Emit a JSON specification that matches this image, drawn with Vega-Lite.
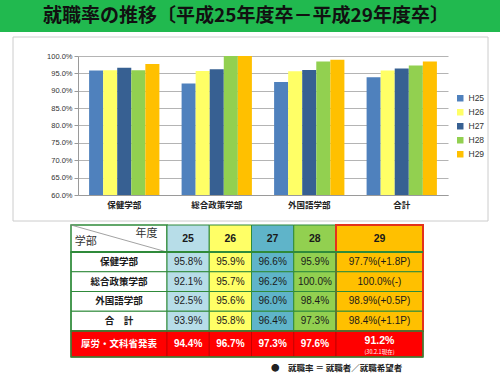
{
  "$schema": "https://vega.github.io/schema/vega-lite/v6.json",
  "padding": 0,
  "background": "white",
  "spacing": 0,
  "bounds": "flush",
  "config": {"view": {"stroke": null}, "font": "Liberation Sans, Noto Sans CJK JP"},
  "resolve": {"scale": {"color": "independent"}, "legend": {"color": "independent"}},
  "datasets": {
    "rates": [
      {"dept": "保健学部", "year": "H25", "rate": 0.958},
      {"dept": "保健学部", "year": "H26", "rate": 0.959},
      {"dept": "保健学部", "year": "H27", "rate": 0.966},
      {"dept": "保健学部", "year": "H28", "rate": 0.959},
      {"dept": "保健学部", "year": "H29", "rate": 0.977},
      {"dept": "総合政策学部", "year": "H25", "rate": 0.921},
      {"dept": "総合政策学部", "year": "H26", "rate": 0.957},
      {"dept": "総合政策学部", "year": "H27", "rate": 0.962},
      {"dept": "総合政策学部", "year": "H28", "rate": 1.0},
      {"dept": "総合政策学部", "year": "H29", "rate": 1.0},
      {"dept": "外国語学部", "year": "H25", "rate": 0.925},
      {"dept": "外国語学部", "year": "H26", "rate": 0.956},
      {"dept": "外国語学部", "year": "H27", "rate": 0.960},
      {"dept": "外国語学部", "year": "H28", "rate": 0.984},
      {"dept": "外国語学部", "year": "H29", "rate": 0.989},
      {"dept": "合計", "year": "H25", "rate": 0.939},
      {"dept": "合計", "year": "H26", "rate": 0.958},
      {"dept": "合計", "year": "H27", "rate": 0.964},
      {"dept": "合計", "year": "H28", "rate": 0.973},
      {"dept": "合計", "year": "H29", "rate": 0.984}
    ],
    "col29": [
      {"dept": "保健学部", "v": "97.7%(+1.8P)"},
      {"dept": "総合政策学部", "v": "100.0%(-)"},
      {"dept": "外国語学部", "v": "98.9%(+0.5P)"},
      {"dept": "合計", "v": "98.4%(+1.1P)"}
    ],
    "depts": [
      {"dept": "保健学部", "label": "保健学部"},
      {"dept": "総合政策学部", "label": "総合政策学部"},
      {"dept": "外国語学部", "label": "外国語学部"},
      {"dept": "合計", "label": "合　計"}
    ],
    "mhlw": [
      {"year": "H25", "v": 0.944},
      {"year": "H26", "v": 0.967},
      {"year": "H27", "v": 0.973},
      {"year": "H28", "v": 0.976}
    ],
    "years": [
      {"year": "H25", "label": "25"},
      {"year": "H26", "label": "26"},
      {"year": "H27", "label": "27"},
      {"year": "H28", "label": "28"}
    ]
  },
  "vconcat": [
    {
      "width": 500, "height": 32,
      "view": {"fill": "#21b94f", "stroke": null},
      "data": {"values": [{"t": "就職率の推移〔平成25年度卒－平成29年度卒〕"}]},
      "mark": {"type": "text", "font": "Noto Sans CJK JP", "fontSize": 19, "fontWeight": "bold", "color": "#111111", "baseline": "middle", "dx": -4},
      "encoding": {"text": {"field": "t"}}
    },
    {
      "width": 500, "height": 193,
      "resolve": {"scale": {"x": "independent", "y": "independent"}},
      "layer": [
        {
          "data": {"name": "rates"},
          "mark": {"type": "bar"},
          "encoding": {
            "x": {"field": "dept", "type": "nominal", "sort": ["保健学部", "総合政策学部", "外国語学部", "合計"],
                  "scale": {"range": [78, 448], "paddingInner": 0.24, "paddingOuter": 0.12},
                  "axis": {"title": null, "orient": "bottom", "labelAngle": 0, "offset": -30, "ticks": false, "domainColor": "#9a9a9a", "labelFont": "Noto Sans CJK JP", "labelFontWeight": "bold", "labelFontSize": 8.5, "labelColor": "#222", "labelPadding": 5}},
            "xOffset": {"field": "year", "type": "nominal", "scale": {"paddingInner": 0, "paddingOuter": 0}},
            "y": {"field": "rate", "type": "quantitative",
                  "scale": {"domain": [0.6, 1], "range": [163, 24], "zero": false, "nice": false},
                  "axis": {"title": null, "orient": "left", "format": ".1%", "values": [0.6, 0.65, 0.7, 0.75, 0.8, 0.85, 0.9, 0.95, 1.0], "offset": -78, "gridColor": "#b4b4b4", "domainColor": "#9a9a9a", "tickColor": "#9a9a9a", "tickSize": 4, "labelFontSize": 7.5, "labelColor": "#333", "labelPadding": 2}},
            "y2": {"datum": 0.6},
            "color": {"field": "year", "type": "nominal",
                      "scale": {"domain": ["H25", "H26", "H27", "H28", "H29"], "range": ["#4f81bd", "#ffff66", "#376092", "#92d050", "#ffc000"]},
                      "legend": {"title": null, "orient": "none", "legendX": 456, "legendY": 62, "direction": "vertical", "symbolType": "square", "symbolSize": 42, "symbolStrokeWidth": 0, "labelFontSize": 8.5, "labelColor": "#333", "rowPadding": 5, "labelOffset": 4}}
          }
        },
        {
          "data": {"values": [{}]},
          "mark": {"type": "rect", "fill": "transparent", "stroke": "#cccccc", "strokeWidth": 1},
          "encoding": {
            "x": {"datum": 0, "type": "quantitative", "scale": {"domain": [0, 1], "range": [13, 488]}, "axis": null}, "x2": {"datum": 1},
            "y": {"datum": 0, "type": "quantitative", "scale": {"domain": [0, 1], "range": [189, 5]}, "axis": null}, "y2": {"datum": 1}
          }
        }
      ]
    },
    {
      "width": 500, "height": 27,
      "resolve": {"scale": {"x": "independent", "y": "independent"}},
      "layer": [
        {
          "data": {"values": [{"a": "学部", "b": "年度"}]},
          "layer": [
            {"mark": {"type": "rect", "fill": "white", "stroke": "#2f8a3a", "strokeWidth": 1.5},
             "encoding": {"x": {"datum": 0, "type": "quantitative", "scale": {"domain": [0, 1], "range": [71, 167]}, "axis": null}, "x2": {"datum": 1},
                          "y": {"datum": 0, "type": "quantitative", "scale": {"domain": [0, 1]}, "axis": null}, "y2": {"datum": 1}}},
            {"mark": {"type": "rule", "color": "#8a8a8a", "strokeWidth": 0.8},
             "encoding": {"x": {"datum": 0, "type": "quantitative", "scale": {"domain": [0, 1], "range": [71, 167]}, "axis": null}, "x2": {"datum": 1},
                          "y": {"datum": 1, "type": "quantitative", "scale": {"domain": [0, 1]}, "axis": null}, "y2": {"datum": 0}}},
            {"mark": {"type": "text", "align": "left", "fontSize": 11, "color": "#333", "font": "Noto Sans CJK JP"},
             "encoding": {"x": {"datum": 0.04, "type": "quantitative", "scale": {"domain": [0, 1], "range": [71, 167]}, "axis": null},
                          "y": {"datum": 0.38, "type": "quantitative", "scale": {"domain": [0, 1]}, "axis": null}, "text": {"field": "a"}}},
            {"mark": {"type": "text", "align": "right", "fontSize": 11, "color": "#333", "font": "Noto Sans CJK JP"},
             "encoding": {"x": {"datum": 0.9, "type": "quantitative", "scale": {"domain": [0, 1], "range": [71, 167]}, "axis": null},
                          "y": {"datum": 0.68, "type": "quantitative", "scale": {"domain": [0, 1]}, "axis": null}, "text": {"field": "b"}}}
          ]
        },
        {
          "data": {"name": "years"},
          "encoding": {"x": {"field": "year", "type": "nominal", "scale": {"domain": ["H25", "H26", "H27", "H28"], "range": [167, 336], "paddingInner": 0, "paddingOuter": 0}, "axis": null}},
          "layer": [
            {"mark": {"type": "rect", "stroke": "#2f8a3a", "strokeWidth": 1},
             "encoding": {"y": {"datum": 0, "type": "quantitative", "scale": {"domain": [0, 1]}, "axis": null}, "y2": {"datum": 1},
                          "fill": {"field": "year", "type": "nominal", "scale": {"domain": ["H25", "H26", "H27", "H28"], "range": ["#b7dde8", "#ffff66", "#5fb4c9", "#92d050"]}, "legend": null}}},
            {"mark": {"type": "text", "fontSize": 10.5, "fontWeight": "bold", "color": "#1a1a1a"},
             "encoding": {"text": {"field": "label"}}}
          ]
        },
        {
          "data": {"values": [{"label": "29"}]},
          "encoding": {"x": {"datum": 0, "type": "quantitative", "scale": {"domain": [0, 1], "range": [336, 423]}, "axis": null}},
          "layer": [
            {"mark": {"type": "rect", "fill": "#ffc000", "stroke": "#e4321b", "strokeWidth": 2},
             "encoding": {"x2": {"datum": 1}, "y": {"datum": 0, "type": "quantitative", "scale": {"domain": [0, 1]}, "axis": null}, "y2": {"datum": 1}}},
            {"mark": {"type": "text", "fontSize": 10.5, "fontWeight": "bold", "color": "#1a1a1a"},
             "encoding": {"x": {"datum": 0.5, "type": "quantitative", "scale": {"domain": [0, 1], "range": [336, 423]}, "axis": null}, "text": {"field": "label"}}}
          ]
        }
      ]
    },
    {
      "width": 500, "height": 79,
      "resolve": {"scale": {"x": "independent", "y": "independent"}},
      "layer": [
        {
          "data": {"name": "depts"},
          "encoding": {"y": {"field": "dept", "type": "nominal", "scale": {"domain": ["保健学部", "総合政策学部", "外国語学部", "合計"], "paddingInner": 0, "paddingOuter": 0}, "axis": null}},
          "layer": [
            {"mark": {"type": "rect", "fill": "white", "stroke": "#2f8a3a", "strokeWidth": 1},
             "encoding": {"x": {"datum": 0, "type": "quantitative", "scale": {"domain": [0, 1], "range": [71, 167]}, "axis": null}, "x2": {"datum": 1}}},
            {"mark": {"type": "text", "fontSize": 9.5, "fontWeight": "bold", "color": "#1a1a1a", "font": "Noto Sans CJK JP"},
             "encoding": {"x": {"datum": 0.5, "type": "quantitative", "scale": {"domain": [0, 1], "range": [71, 167]}, "axis": null}, "text": {"field": "label"}}}
          ]
        },
        {
          "data": {"name": "rates"},
          "transform": [{"filter": {"field": "year", "oneOf": ["H25", "H26", "H27", "H28"]}}],
          "encoding": {
            "x": {"field": "year", "type": "nominal", "scale": {"domain": ["H25", "H26", "H27", "H28"], "range": [167, 336], "paddingInner": 0, "paddingOuter": 0}, "axis": null},
            "y": {"field": "dept", "type": "nominal", "scale": {"domain": ["保健学部", "総合政策学部", "外国語学部", "合計"], "paddingInner": 0, "paddingOuter": 0}, "axis": null}
          },
          "layer": [
            {"mark": {"type": "rect", "stroke": "#2f8a3a", "strokeWidth": 1},
             "encoding": {"fill": {"field": "year", "type": "nominal", "scale": {"domain": ["H25", "H26", "H27", "H28"], "range": ["#b7dde8", "#ffff66", "#5fb4c9", "#92d050"]}, "legend": null}}},
            {"mark": {"type": "text", "fontSize": 10, "color": "#1a1a1a"},
             "encoding": {"text": {"field": "rate", "type": "quantitative", "format": ".1%"}}}
          ]
        },
        {
          "data": {"name": "col29"},
          "encoding": {"y": {"field": "dept", "type": "nominal", "scale": {"domain": ["保健学部", "総合政策学部", "外国語学部", "合計"], "paddingInner": 0, "paddingOuter": 0}, "axis": null}},
          "layer": [
            {"mark": {"type": "rect", "fill": "#ffc000", "stroke": "#2f8a3a", "strokeWidth": 1},
             "encoding": {"x": {"datum": 0, "type": "quantitative", "scale": {"domain": [0, 1], "range": [336, 423]}, "axis": null}, "x2": {"datum": 1}}},
            {"mark": {"type": "text", "fontSize": 10, "color": "#1a1a1a"},
             "encoding": {"x": {"datum": 0.5, "type": "quantitative", "scale": {"domain": [0, 1], "range": [336, 423]}, "axis": null}, "text": {"field": "v"}}}
          ]
        },
        {
          "data": {"values": [{}]},
          "mark": {"type": "rect", "fill": "transparent", "stroke": "#e4321b", "strokeWidth": 2},
          "encoding": {"x": {"datum": 0, "type": "quantitative", "scale": {"domain": [0, 1], "range": [336, 423]}, "axis": null}, "x2": {"datum": 1},
                       "y": {"datum": 0, "type": "quantitative", "scale": {"domain": [0, 1]}, "axis": null}, "y2": {"datum": 1}}
        },
        {
          "data": {"values": [{}]},
          "mark": {"type": "rect", "fill": "transparent", "stroke": "#2f8a3a", "strokeWidth": 1.5},
          "encoding": {"x": {"datum": 0, "type": "quantitative", "scale": {"domain": [0, 1], "range": [71, 336]}, "axis": null}, "x2": {"datum": 1},
                       "y": {"datum": 0, "type": "quantitative", "scale": {"domain": [0, 1]}, "axis": null}, "y2": {"datum": 1}}
        },
        {
          "data": {"values": [{}]},
          "mark": {"type": "rule", "color": "#2f8a3a", "strokeWidth": 2},
          "encoding": {"x": {"datum": 0, "type": "quantitative", "scale": {"domain": [0, 1], "range": [71, 423]}, "axis": null}, "x2": {"datum": 1},
                       "y": {"datum": 1, "type": "quantitative", "scale": {"domain": [0, 1]}, "axis": null}}
        }
      ]
    },
    {
      "width": 500, "height": 26,
      "resolve": {"scale": {"x": "independent", "y": "independent"}},
      "layer": [
        {
          "data": {"values": [{"t": "厚労・文科省発表"}]},
          "layer": [
            {"mark": {"type": "rect", "fill": "#ff0000", "stroke": "#c80000", "strokeWidth": 1},
             "encoding": {"x": {"datum": 0, "type": "quantitative", "scale": {"domain": [0, 1], "range": [71, 167]}, "axis": null}, "x2": {"datum": 1},
                          "y": {"datum": 0, "type": "quantitative", "scale": {"domain": [0, 1]}, "axis": null}, "y2": {"datum": 1}}},
            {"mark": {"type": "text", "fontSize": 9.5, "fontWeight": "bold", "color": "white", "font": "Noto Sans CJK JP"},
             "encoding": {"x": {"datum": 0.5, "type": "quantitative", "scale": {"domain": [0, 1], "range": [71, 167]}, "axis": null}, "text": {"field": "t"}}}
          ]
        },
        {
          "data": {"name": "mhlw"},
          "encoding": {"x": {"field": "year", "type": "nominal", "scale": {"domain": ["H25", "H26", "H27", "H28"], "range": [167, 336], "paddingInner": 0, "paddingOuter": 0}, "axis": null}},
          "layer": [
            {"mark": {"type": "rect", "fill": "#ff0000", "stroke": "#c80000", "strokeWidth": 1},
             "encoding": {"y": {"datum": 0, "type": "quantitative", "scale": {"domain": [0, 1]}, "axis": null}, "y2": {"datum": 1}}},
            {"mark": {"type": "text", "fontSize": 10, "fontWeight": "bold", "color": "white"},
             "encoding": {"text": {"field": "v", "type": "quantitative", "format": ".1%"}}}
          ]
        },
        {
          "data": {"values": [{"a": "91.2%", "b": "(30.2.1現在)"}]},
          "layer": [
            {"mark": {"type": "rect", "fill": "#ff0000", "stroke": "#c80000", "strokeWidth": 1},
             "encoding": {"x": {"datum": 0, "type": "quantitative", "scale": {"domain": [0, 1], "range": [336, 423]}, "axis": null}, "x2": {"datum": 1},
                          "y": {"datum": 0, "type": "quantitative", "scale": {"domain": [0, 1]}, "axis": null}, "y2": {"datum": 1}}},
            {"mark": {"type": "text", "fontSize": 10.5, "fontWeight": "bold", "color": "white", "dy": -3},
             "encoding": {"x": {"datum": 0.5, "type": "quantitative", "scale": {"domain": [0, 1], "range": [336, 423]}, "axis": null}, "text": {"field": "a"}}},
            {"mark": {"type": "text", "fontSize": 5.5, "color": "white", "dy": 8, "font": "Noto Sans CJK JP"},
             "encoding": {"x": {"datum": 0.5, "type": "quantitative", "scale": {"domain": [0, 1], "range": [336, 423]}, "axis": null}, "text": {"field": "b"}}}
          ]
        },
        {
          "data": {"values": [{}]},
          "mark": {"type": "rect", "fill": "transparent", "stroke": "#2f8a3a", "strokeWidth": 1.5},
          "encoding": {"x": {"datum": 0, "type": "quantitative", "scale": {"domain": [0, 1], "range": [71, 423]}, "axis": null}, "x2": {"datum": 1},
                       "y": {"datum": 0, "type": "quantitative", "scale": {"domain": [0, 1]}, "axis": null}, "y2": {"datum": 1}}
        }
      ]
    },
    {
      "width": 500, "height": 18,
      "data": {"values": [{"t": "●　就職率 ＝ 就職者／就職希望者"}]},
      "mark": {"type": "text", "align": "left", "fontSize": 8.5, "fontWeight": "bold", "color": "#222", "font": "Noto Sans CJK JP", "dy": 2},
      "encoding": {
        "x": {"datum": 0, "type": "quantitative", "scale": {"domain": [0, 1], "range": [271, 400]}, "axis": null},
        "text": {"field": "t"}
      }
    }
  ]
}
